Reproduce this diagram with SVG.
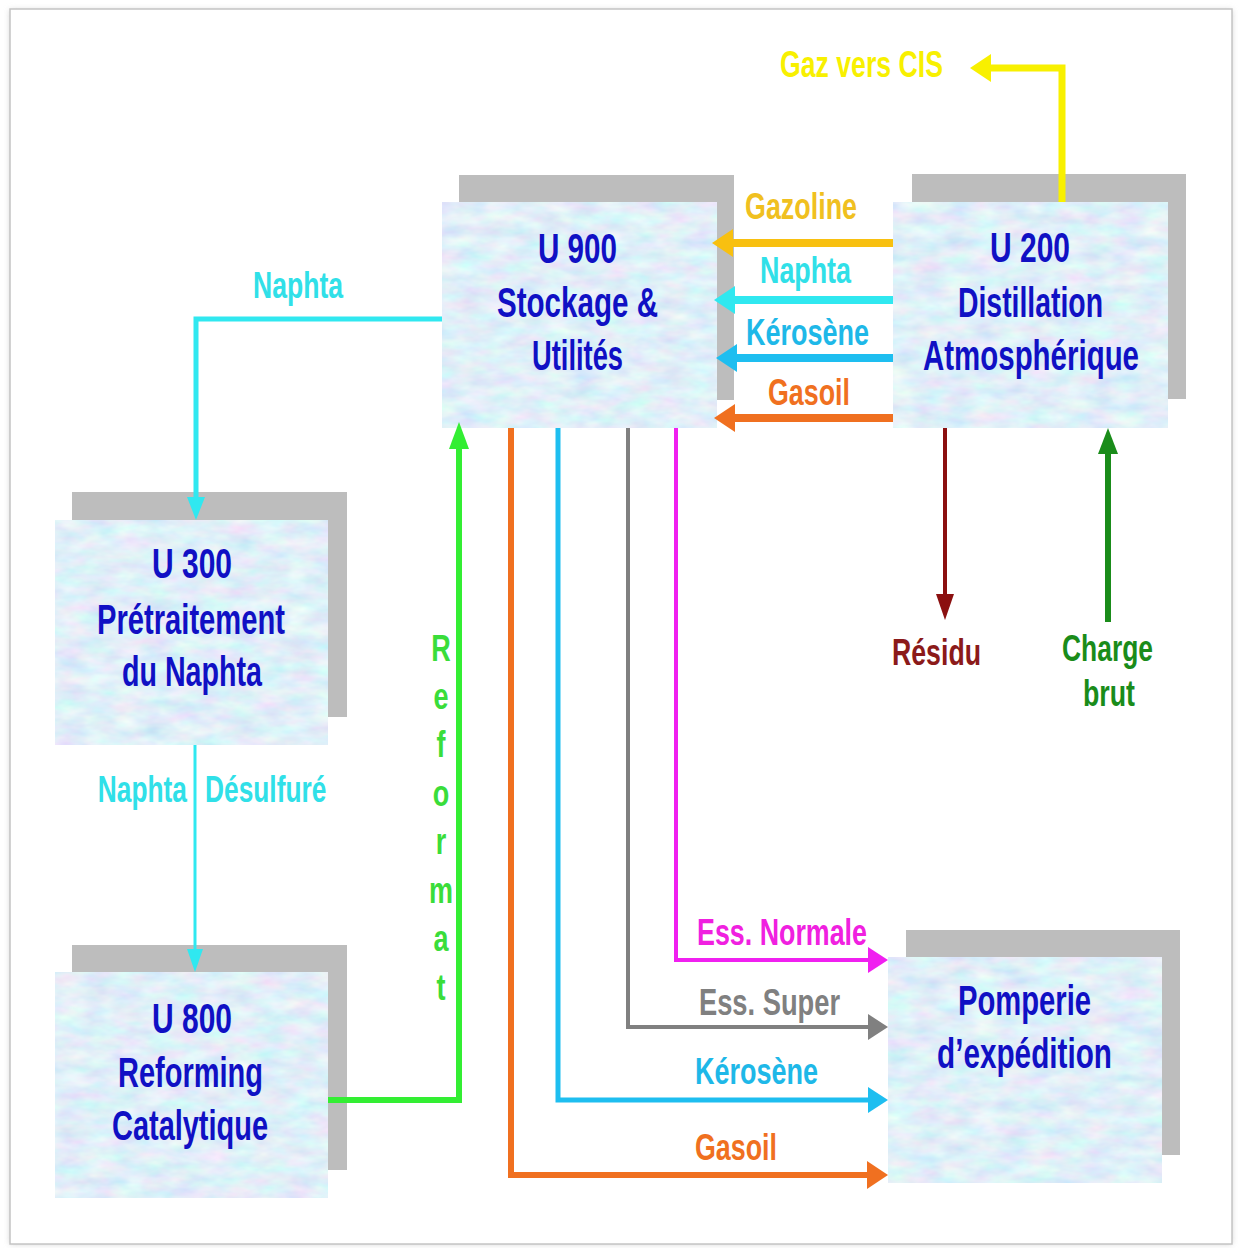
<svg xmlns="http://www.w3.org/2000/svg" width="1239" height="1248" viewBox="0 0 1239 1248">
<defs>
<filter id="tex" x="0" y="0" width="1" height="1">
<feTurbulence type="fractalNoise" baseFrequency="0.035 0.08" numOctaves="3" seed="7" result="n"/>
<feColorMatrix in="n" type="matrix" values="0.45 0 0 0 0.52  0 0.35 0 0 0.69  0 0 0.12 0 0.88  0 0 0 0 1" result="c"/>
<feComposite in="c" in2="SourceGraphic" operator="in"/>
</filter>
<filter id="frameShadow" x="-5%" y="-5%" width="110%" height="110%">
<feGaussianBlur stdDeviation="3"/>
</filter>
<style>
.shadow{fill:#BDBDBD}
.box{fill:#C8D8F0;filter:url(#tex)}
.title{font-family:"Liberation Sans",Arial,sans-serif;font-weight:bold;font-size:42px;fill:#1010C4}
.lbl{font-family:"Liberation Sans",Arial,sans-serif;font-weight:bold;font-size:36px}
.ln{fill:none;stroke-linejoin:miter;stroke-linecap:butt}
</style>
</defs>
<rect x="0" y="0" width="1239" height="1248" fill="#FFFFFF"/>
<rect x="10" y="10" width="1222" height="1234" fill="#D0D0D0" filter="url(#frameShadow)"/>
<rect x="10" y="9" width="1222" height="1235" fill="#FFFFFF" stroke="#C4C4C4" stroke-width="1.5"/>

<g id="u900">
<rect class="shadow" x="459" y="175" width="275" height="225"/>
<rect class="box" x="442" y="202" width="275" height="226"/>
<text class="title" x="538" y="263" textLength="79" lengthAdjust="spacingAndGlyphs">U 900</text>
<text class="title" x="497" y="317" textLength="161" lengthAdjust="spacingAndGlyphs">Stockage &amp;</text>
<text class="title" x="532" y="370" textLength="91" lengthAdjust="spacingAndGlyphs">Utilités</text>
</g>

<g id="u200">
<rect class="shadow" x="912" y="174" width="274" height="225"/>
<rect class="box" x="893" y="202" width="275" height="226"/>
<text class="title" x="990" y="262" textLength="80" lengthAdjust="spacingAndGlyphs">U 200</text>
<text class="title" x="958" y="317" textLength="145" lengthAdjust="spacingAndGlyphs">Distillation</text>
<text class="title" x="923" y="370" textLength="216" lengthAdjust="spacingAndGlyphs">Atmosphérique</text>
</g>

<g id="u300">
<rect class="shadow" x="72" y="492" width="275" height="225"/>
<rect class="box" x="55" y="520" width="273" height="225"/>
<text class="title" x="152" y="578" textLength="80" lengthAdjust="spacingAndGlyphs">U 300</text>
<text class="title" x="97" y="634" textLength="188" lengthAdjust="spacingAndGlyphs">Prétraitement</text>
<text class="title" x="122" y="686" textLength="140" lengthAdjust="spacingAndGlyphs">du Naphta</text>
</g>

<g id="u800">
<rect class="shadow" x="72" y="945" width="275" height="225"/>
<rect class="box" x="55" y="972" width="273" height="226"/>
<text class="title" x="152" y="1033" textLength="80" lengthAdjust="spacingAndGlyphs">U 800</text>
<text class="title" x="118" y="1087" textLength="145" lengthAdjust="spacingAndGlyphs">Reforming</text>
<text class="title" x="112" y="1140" textLength="156" lengthAdjust="spacingAndGlyphs">Catalytique</text>
</g>

<g id="pomperie">
<rect class="shadow" x="906" y="930" width="274" height="225"/>
<rect class="box" x="888" y="957" width="274" height="226"/>
<text class="title" x="958" y="1015" textLength="133" lengthAdjust="spacingAndGlyphs">Pomperie</text>
<text class="title" x="937" y="1068" textLength="175" lengthAdjust="spacingAndGlyphs">d’expédition</text>
</g>

<g id="connectors">
<path class="ln" d="M893,243 H730" stroke="#F8C010" stroke-width="8"/>
<polygon points="712,243 733,229 733,257" fill="#F8C010"/>
<path class="ln" d="M893,300 H732" stroke="#30E8F0" stroke-width="8"/>
<polygon points="714,300 735,286 735,314" fill="#30E8F0"/>
<path class="ln" d="M893,358 H734" stroke="#1EBEF0" stroke-width="8"/>
<polygon points="716,358 737,344 737,372" fill="#1EBEF0"/>
<path class="ln" d="M893,418 H732" stroke="#F07020" stroke-width="8"/>
<polygon points="714,418 735,404 735,432" fill="#F07020"/>
<path class="ln" d="M1062,202 V68 H988" stroke="#F8F000" stroke-width="7"/>
<polygon points="970,68 991,54 991,82" fill="#F8F000"/>
<path class="ln" d="M945,428 V598" stroke="#8B1010" stroke-width="4"/>
<polygon points="945,620 936,594 954,594" fill="#8B1010"/>
<path class="ln" d="M1108,622 V450" stroke="#1A8C1A" stroke-width="6"/>
<polygon points="1108,428 1098,454 1118,454" fill="#1A8C1A"/>
<path class="ln" d="M442,319 H196 V500" stroke="#30E8F0" stroke-width="5"/>
<polygon points="196,520 187,497 205,497" fill="#30E8F0"/>
<path class="ln" d="M195,745 V952" stroke="#30E8F0" stroke-width="3"/>
<polygon points="195,972 187,949 203,949" fill="#30E8F0"/>
<path class="ln" d="M328,1100 H459 V446" stroke="#33EE33" stroke-width="6"/>
<polygon points="459,422 449,449 469,449" fill="#33EE33"/>
<path class="ln" d="M511,428 V1175 H868" stroke="#F07020" stroke-width="6"/>
<polygon points="888,1175 867,1161 867,1189" fill="#F07020"/>
<path class="ln" d="M558,428 V1100 H868" stroke="#1EBEF0" stroke-width="5"/>
<polygon points="888,1100 868,1087 868,1113" fill="#1EBEF0"/>
<path class="ln" d="M628,428 V1027 H868" stroke="#808080" stroke-width="4"/>
<polygon points="888,1027 868,1014 868,1040" fill="#808080"/>
<path class="ln" d="M676,428 V960 H868" stroke="#F020F0" stroke-width="4"/>
<polygon points="888,960 868,947 868,973" fill="#F020F0"/>
</g>

<g id="labels">
<text class="lbl" x="780" y="77" textLength="163" lengthAdjust="spacingAndGlyphs" fill="#F8F000">Gaz vers CIS</text>
<text class="lbl" x="745" y="219" textLength="112" lengthAdjust="spacingAndGlyphs" fill="#F0C020">Gazoline</text>
<text class="lbl" x="760" y="283" textLength="91" lengthAdjust="spacingAndGlyphs" fill="#30E0E8">Naphta</text>
<text class="lbl" x="746" y="345" textLength="123" lengthAdjust="spacingAndGlyphs" fill="#1EB8E8">Kérosène</text>
<text class="lbl" x="768" y="405" textLength="82" lengthAdjust="spacingAndGlyphs" fill="#F07020">Gasoil</text>
<text class="lbl" x="253" y="298" textLength="90" lengthAdjust="spacingAndGlyphs" fill="#30E0E8">Naphta</text>
<text class="lbl" transform="scale(0.73 1)" y="802" fill="#30E0E8"><tspan x="134">Naphta</tspan><tspan x="281">Désulfuré</tspan></text>
<text class="lbl" x="892" y="665" textLength="89" lengthAdjust="spacingAndGlyphs" fill="#8B1A1A">Résidu</text>
<text class="lbl" x="1062" y="661" textLength="91" lengthAdjust="spacingAndGlyphs" fill="#1A8C1A">Charge</text>
<text class="lbl" x="1083" y="706" textLength="52" lengthAdjust="spacingAndGlyphs" fill="#1A8C1A">brut</text>
<text class="lbl" x="697" y="945" textLength="170" lengthAdjust="spacingAndGlyphs" fill="#F020E0">Ess. Normale</text>
<text class="lbl" x="699" y="1015" textLength="141" lengthAdjust="spacingAndGlyphs" fill="#808080">Ess. Super</text>
<text class="lbl" x="695" y="1084" textLength="123" lengthAdjust="spacingAndGlyphs" fill="#1EB8E8">Kérosène</text>
<text class="lbl" x="695" y="1160" textLength="82" lengthAdjust="spacingAndGlyphs" fill="#F07020">Gasoil</text>
<text class="lbl" transform="scale(0.75 1)" text-anchor="middle" fill="#3ADD3A"><tspan x="588" y="661">R</tspan><tspan x="588" y="709">e</tspan><tspan x="588" y="757">f</tspan><tspan x="588" y="806">o</tspan><tspan x="588" y="854">r</tspan><tspan x="588" y="903">m</tspan><tspan x="588" y="951">a</tspan><tspan x="588" y="1000">t</tspan></text>
</g>
</svg>
